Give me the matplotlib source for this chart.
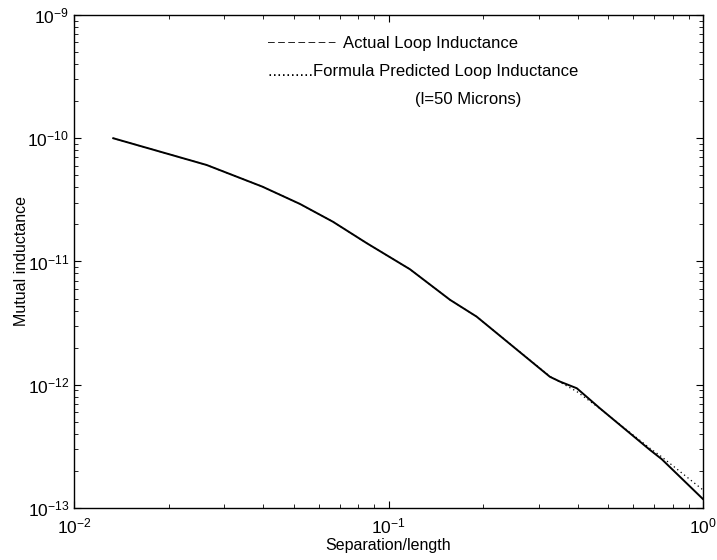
import matplotlib
matplotlib.use("Agg")
import matplotlib.pyplot as plt
from matplotlib.ticker import NullFormatter
import numpy as np

plt.rcParams['font.family'] = ['Liberation Sans', 'DejaVu Sans']
plt.rcParams['mathtext.fontset'] = 'custom'
plt.rcParams['mathtext.rm'] = 'Liberation Sans'

# separation / length values and mutual inductance
sep = [0.01333, 0.0264, 0.0397, 0.0523, 0.0666, 0.0852, 0.117, 0.157, 0.1906,
       0.326, 0.351, 0.397, 0.470, 0.678, 0.739, 1.0]
actual = [1.0e-10, 6.07e-11, 4.05e-11, 2.93e-11, 2.10e-11, 1.41e-11, 8.65e-12,
          4.88e-12, 3.57e-12, 1.16e-12, 1.06e-12, 9.36e-13, 6.44e-13, 2.96e-13,
          2.49e-13, 1.18e-13]
formula = [1.0e-10, 6.07e-11, 4.05e-11, 2.93e-11, 2.10e-11, 1.41e-11, 8.65e-12,
           4.88e-12, 3.57e-12, 1.17e-12, 1.05e-12, 8.8e-13, 6.4e-13, 3.05e-13,
           2.6e-13, 1.4e-13]

fig = plt.figure(figsize=(7.17, 5.6), dpi=100)
ax = fig.add_axes([0.1032, 0.0929, 0.8773, 0.8803])

ax.loglog(sep, formula, color='black', linestyle=(0, (1, 2.5)), linewidth=0.9)
ax.loglog(sep, actual, color='black', linestyle='-', linewidth=1.4)

ax.set_xlim(1e-2, 1)
ax.set_ylim(1e-13, 1e-9)
ax.xaxis.set_minor_formatter(NullFormatter())
ax.yaxis.set_minor_formatter(NullFormatter())
ax.tick_params(which='both', direction='in', top=True, right=True, labelsize=12.5)
ax.tick_params(axis='x', which='major', pad=6)
ax.tick_params(which='major', length=5, width=0.8)
ax.tick_params(which='minor', length=3, width=0.6)
for s in ax.spines.values():
    s.set_linewidth(1.0)

ax.set_xlabel("Separation/length", fontsize=11.5, labelpad=1)
ax.set_ylabel("Mutual inductance", fontsize=11.5, labelpad=-1.5)

# legend written as text, like the original
ax.text(0.3084, 0.9432, "– – – – – – –", transform=ax.transAxes,
        fontsize=8.7, va='center', ha='left')
ax.text(0.4277, 0.9432, "Actual Loop Inductance", transform=ax.transAxes,
        fontsize=12, va='center', ha='left')
ax.text(0.3084, 0.8844, "..........Formula Predicted Loop Inductance", transform=ax.transAxes,
        fontsize=12, va='center', ha='left')
ax.text(0.5421, 0.8296, "(l=50 Microns)", transform=ax.transAxes,
        fontsize=12, va='center', ha='left')

fig.savefig("out.png", dpi=100)
